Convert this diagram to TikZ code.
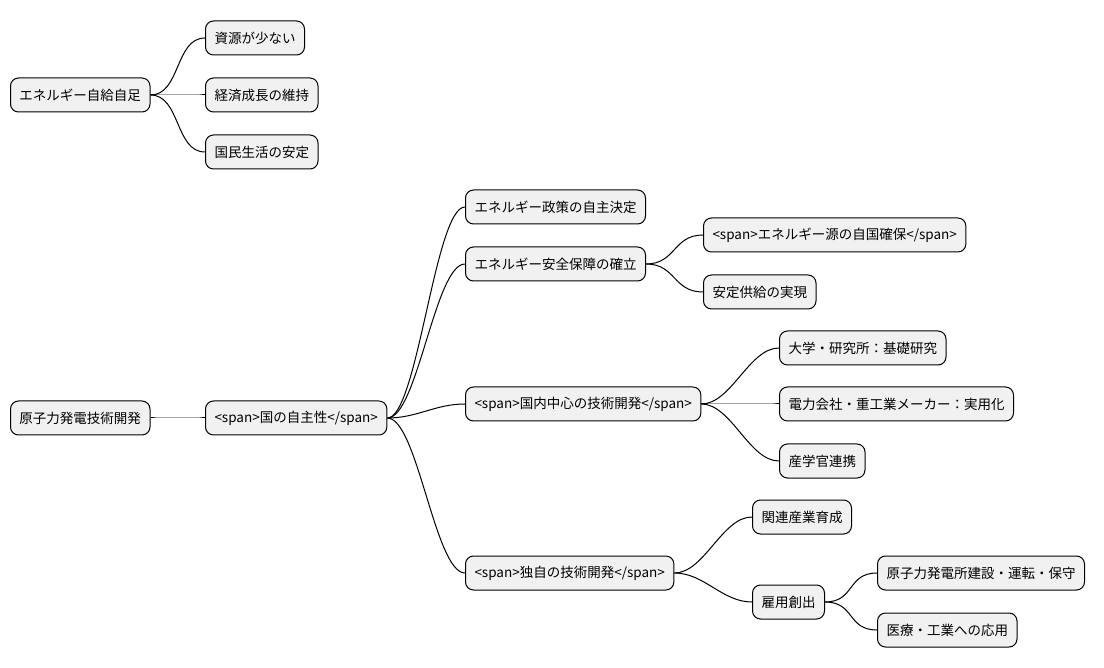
\documentclass[tikz,border=0pt]{standalone}
\usepackage{fontspec}
\setmainfont{Noto Sans CJK JP}
\usetikzlibrary{positioning}
\definecolor{boxfill}{HTML}{F1F1F1}
\tikzset{
  box/.style={draw, fill=boxfill, rounded corners=8pt, minimum height=34pt, inner xsep=9pt, font=\fontsize{13.5}{16}\selectfont},
  link/.style={draw, line width=0.8pt}
}
\begin{document}
\begin{tikzpicture}[x=1pt, y=-1pt, line width=1pt]
\useasboundingbox (0,0) rectangle (1104,668);
% first tree
\node[box, anchor=west] (r) at (10,95) {エネルギー自給自足};
\node[box, anchor=west] (r1) at (205,38) {資源が少ない};
\node[box, anchor=west] (r2) at (205,95) {経済成長の維持};
\node[box, anchor=west] (r3) at (205,152) {国民生活の安定};
% second tree
\node[box, anchor=west] (x) at (10,418) {原子力発電技術開発};
\node[box, anchor=west] (y) at (205,418) {<span>国の自主性</span>};
\node[box, anchor=west] (y1) at (465,207) {エネルギー政策の自主決定};
\node[box, anchor=west] (y2) at (465,264) {エネルギー安全保障の確立};
\node[box, anchor=west] (y3) at (465,404) {<span>国内中心の技術開発</span>};
\node[box, anchor=west] (y4) at (465,573) {<span>独自の技術開発</span>};
\node[box, anchor=west] (z1) at (703,235) {<span>エネルギー源の自国確保</span>};
\node[box, anchor=west] (z2) at (703,292) {安定供給の実現};
\node[box, anchor=west] (v1) at (779,348) {大学・研究所：基礎研究};
\node[box, anchor=west] (v2) at (779,404) {電力会社・重工業メーカー：実用化};
\node[box, anchor=west] (v3) at (779,461) {産学官連携};
\node[box, anchor=west] (t1) at (752,517) {関連産業育成};
\node[box, anchor=west] (t2) at (752,602) {雇用創出};
\node[box, anchor=west] (w1) at (877,573) {原子力発電所建設・運転・保守};
\node[box, anchor=west] (w2) at (877,630) {医療・工業への応用};
\foreach \a/\b in {r/r1, r/r2, r/r3, x/y, y/y1, y/y2, y/y3, y/y4, y2/z1, y2/z2,
  y3/v1, y3/v2, y3/v3, y4/t1, y4/t2, t2/w1, t2/w2}
  \draw (\a.east) .. controls +(30,0) and +(-30,0) .. (\b.west);
\end{tikzpicture}
\end{document}
